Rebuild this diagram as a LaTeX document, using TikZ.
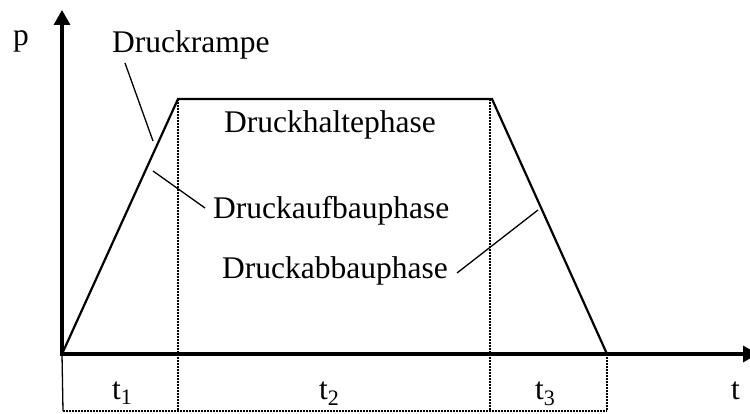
\documentclass[tikz,border=0pt]{standalone}
\usepackage{fontspec}
\setmainfont{Liberation Serif}
\usetikzlibrary{arrows.meta}
\begin{document}
\begin{tikzpicture}[x=1pt,y=-1pt,
  axis/.style={line width=3.2pt,-{Triangle[length=15pt,width=16pt]}},
  curve/.style={line width=2.2pt,line join=miter},
  guide/.style={line width=1.3pt,dash pattern=on 2pt off 1pt},
  leader/.style={line width=1.3pt},
  thinline/.style={line width=1.3pt},
  lbl/.style={inner sep=0pt,anchor=base west,font=\fontsize{31.5}{36}\selectfont}]
\useasboundingbox (0,0) rectangle (750,414);
% key points
\coordinate (O) at (62,354);
\coordinate (A) at (178,99);
\coordinate (B) at (492,99);
\coordinate (C) at (607,354);
\coordinate (ytip) at (62,10);
\coordinate (xtip) at (758,354);
\coordinate (Abot) at (178,411);
\coordinate (Mtop) at (490,99);
\coordinate (Mbot) at (490,411);
\coordinate (Cbot) at (607,411);
\coordinate (Obot) at (63,411);
% guides
\draw[guide] (A) -- (Abot);
\draw[guide] (Mtop) -- (Mbot);
\draw[guide] (C) -- (Cbot);
\draw[guide] (Obot) -- (Cbot);
\draw[thinline] (O) -- (Obot);
% axes
\draw[axis] (62,356) -- (ytip);
\draw[axis] (60.5,354) -- (xtip);
% trapezoid
\draw[curve] (O) -- (A) -- (B) -- (C);
% labels
\node[lbl] (p) at (13,46) {p};
\node[lbl] (ramp) at (112,53) {Druckrampe};
\node[lbl,anchor=base] (halt) at (330,133) {Druckhaltephase};
\node[lbl] (aufbau) at (213,219) {Druckaufbauphase};
\node[lbl] (abbau) at (222,279) {Druckabbauphase};
\node[lbl] (t1) at (112,399) {t\textsubscript{1}};
\node[lbl] (t2) at (319,399) {t\textsubscript{2}};
\node[lbl] (t3) at (535,399) {t\textsubscript{3}};
\node[lbl] (t) at (731,399) {t};
% leaders
\coordinate (r1) at (125,63);
\coordinate (r2) at (153,141);
\coordinate (u1) at (153,171);
\coordinate (u2) at (205,208);
\coordinate (b1) at (457,273);
\coordinate (b2) at (538,210);
\draw[leader] (r1) -- (r2);
\draw[leader] (u1) -- (u2);
\draw[leader] (b1) -- (b2);
\end{tikzpicture}
\end{document}
